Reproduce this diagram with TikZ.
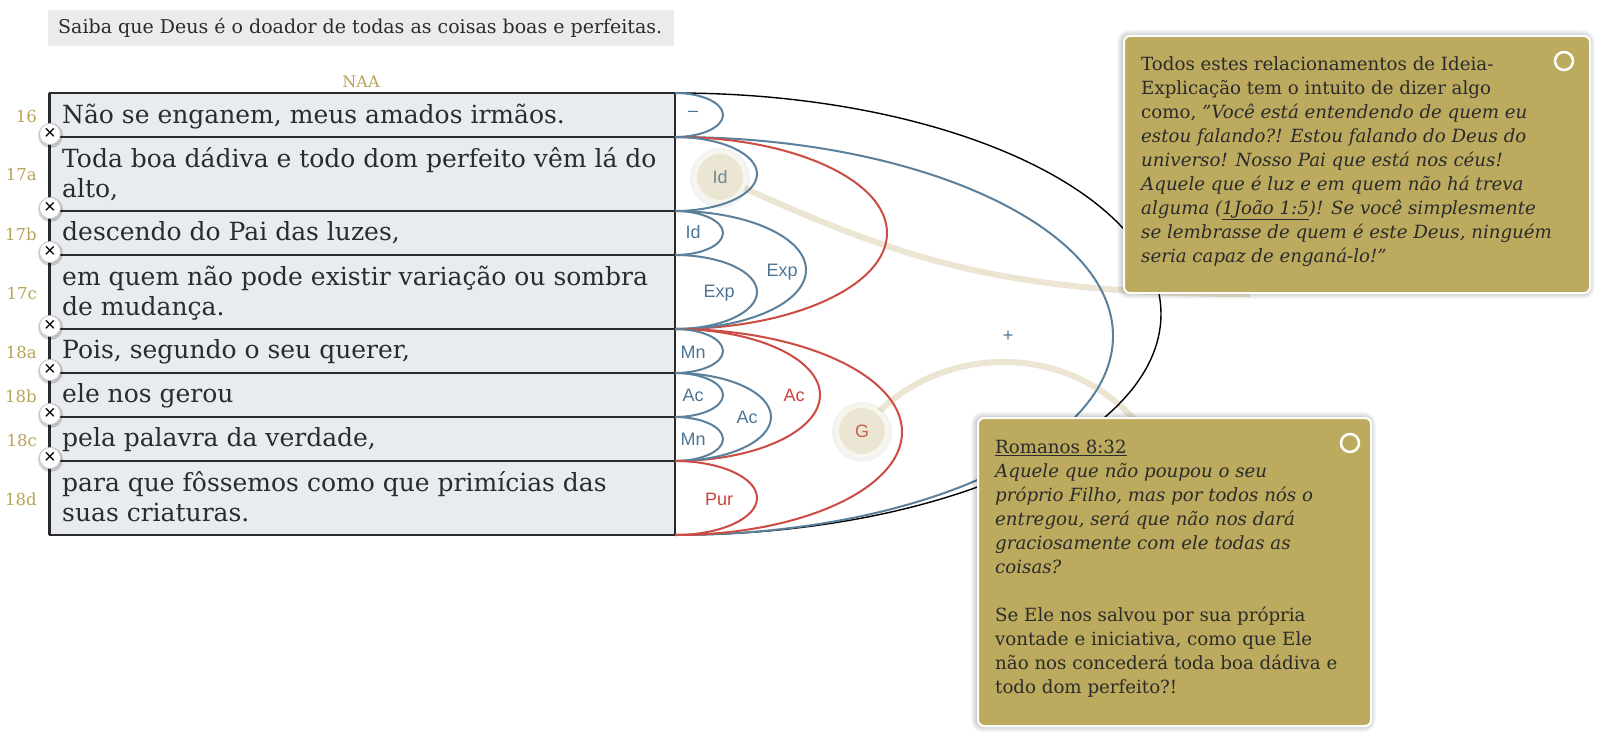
\documentclass[tikz,border=0pt]{standalone}
\usepackage{fontspec}
\setmainfont{DejaVu Serif}
\newfontfamily\labelfont{Liberation Sans}
\definecolor{arcblue}{HTML}{5B809B}
\definecolor{arcred}{HTML}{CC4B43}
\definecolor{lblblue}{HTML}{4E7595}
\definecolor{lblred}{HTML}{C9433C}
\definecolor{gold}{HTML}{B8A455}
\definecolor{notefill}{HTML}{BCAA5E}
\definecolor{rowfill}{HTML}{E8ECF0}
\definecolor{hdrfill}{HTML}{EBEBEB}
\definecolor{beige}{HTML}{EBE5D2}
\definecolor{bubfill}{HTML}{EBE6D3}
\definecolor{bubring}{HTML}{F7F5EC}
\definecolor{inktext}{HTML}{2B2B2B}
\definecolor{gridline}{HTML}{2A2A2A}
\definecolor{idtext}{HTML}{6D8A93}
\definecolor{gtext}{HTML}{C8604A}
\begin{document}
\begin{tikzpicture}[x=1pt,y=-1pt,
  rowbox/.style={draw=gridline, line width=2pt, fill=rowfill, anchor=north west, minimum width=625.5pt, inner sep=0pt, outer sep=0pt},
  rowtext/.style={anchor=north west, inner sep=0pt, align=left, text=inktext, font=\fontsize{25}{30}\selectfont},
  rownum/.style={anchor=base east, inner sep=0pt, text=gold, font=\fontsize{16.5}{19}\selectfont},
  xshadow/.style={circle, fill=black, opacity=0.18, minimum size=25pt, inner sep=0pt},
  xmark/.style={circle, fill=white, draw=black!22, line width=0.7pt, minimum size=21pt, inner sep=0pt, font=\labelfont\fontsize{20}{20}\selectfont, text=black},
  bluearc/.style={draw=arcblue, line width=2pt},
  redarc/.style={draw=arcred, line width=2pt},
  blackarc/.style={draw=black, line width=1.4pt},
  arclabel/.style={inner sep=0pt, font=\labelfont\fontsize{18}{18}\selectfont},
  bubshadow/.style={circle, fill=black, opacity=0.05, minimum size=60pt, inner sep=0pt},
  bubble/.style={circle, fill=bubfill, draw=bubring, line width=4pt, minimum size=50pt, inner sep=0pt, font=\labelfont\fontsize{18}{18}\selectfont},
  beigeline/.style={draw=beige, line width=6pt},
  notebox/.style={fill=notefill, draw=white, line width=2pt, rounded corners=6pt, anchor=north west, inner sep=0pt},
  notetext/.style={anchor=north west, inner sep=0pt, align=left, text=inktext, font=\fontsize{18.2}{24}\selectfont},
  notering/.style={circle, draw=white, line width=2.5pt, minimum size=18pt, inner sep=0pt},
]
\useasboundingbox[fill=white] (0,0) rectangle (1608,738);

% header
\node[fill=hdrfill, anchor=north west, minimum width=626pt, minimum height=36pt, inner sep=0pt] (hdr) at (48,10) {};
\node[anchor=base west, inner sep=0pt, text=inktext, font=\fontsize{19}{22}\selectfont] (hdrtext) at (58,34) {Saiba que Deus é o doador de todas as coisas boas e perfeitas.};
\node[text=gold, font=\fontsize{16}{18}\selectfont, inner sep=0pt] (naa) at (361,82) {NAA};

% rows
\node[rowbox, minimum height=44pt] (r16) at (49.5,93) {};
\node[rowbox, minimum height=74pt] (r17a) at (49.5,137) {};
\node[rowbox, minimum height=44pt] (r17b) at (49.5,211) {};
\node[rowbox, minimum height=74pt] (r17c) at (49.5,255) {};
\node[rowbox, minimum height=44pt] (r18a) at (49.5,329) {};
\node[rowbox, minimum height=44pt] (r18b) at (49.5,373) {};
\node[rowbox, minimum height=44pt] (r18c) at (49.5,417) {};
\node[rowbox, minimum height=74pt] (r18d) at (49.5,461) {};
\draw[gridline, line width=3.5pt] (r16.north west) -- (r18d.south west);

\node[rowtext] (t16) at (62,123-21) {\strut Não se enganem, meus amados irmãos.};
\node[rowtext] (t17a) at (62,167-21) {\strut Toda boa dádiva e todo dom perfeito vêm lá do\\alto,};
\node[rowtext] (t17b) at (62,240-21) {\strut descendo do Pai das luzes,};
\node[rowtext] (t17c) at (62,285-21) {\strut em quem não pode existir variação ou sombra\\de mudança.};
\node[rowtext] (t18a) at (62,358-21) {\strut Pois, segundo o seu querer,};
\node[rowtext] (t18b) at (62,402-21) {\strut ele nos gerou};
\node[rowtext] (t18c) at (62,446-21) {\strut pela palavra da verdade,};
\node[rowtext] (t18d) at (62,491-21) {\strut para que fôssemos como que primícias das\\suas criaturas.};

\node[rownum] (n16) at (37,123) {16};
\node[rownum] (n17a) at (37,181) {17a};
\node[rownum] (n17b) at (37,240) {17b};
\node[rownum] (n17c) at (37,299) {17c};
\node[rownum] (n18a) at (37,358) {18a};
\node[rownum] (n18b) at (37,402) {18b};
\node[rownum] (n18c) at (37,446) {18c};
\node[rownum] (n18d) at (37,505) {18d};

% boundary points
\coordinate (b0) at (r16.north east);
\coordinate (b1) at (r16.south east);
\coordinate (b2) at (r17a.south east);
\coordinate (b3) at (r17b.south east);
\coordinate (b4) at (r17c.south east);
\coordinate (b5) at (r18a.south east);
\coordinate (b6) at (r18b.south east);
\coordinate (b7) at (r18c.south east);
\coordinate (b8) at (r18d.south east);

% beige connectors
\coordinate (cId) at (720,177);
\coordinate (cG) at (862,431);
\coordinate (endA) at (1250,294);
\coordinate (endB) at (1150,440);
\draw[beigeline] (cId) .. controls (900,260) and (1000,294) .. (endA);
\draw[beigeline] (cG) .. controls (930,340) and (1080,335) .. (endB);

% bubbles
\node[bubshadow] (shId) at ([yshift=-1pt]cId) {};
\node[bubshadow] (shG) at ([yshift=-1pt]cG) {};
\node[bubble, text=idtext] (bubId) at (cId) {Id};
\node[bubble, text=gtext] (bubG) at (cG) {G};

% arcs
\draw[blackarc] (b0) arc[start angle=90, end angle=-90, x radius=486pt, y radius=221pt];
\draw[bluearc] (b1) arc[start angle=90, end angle=-90, x radius=438pt, y radius=199pt];
\draw[bluearc] (b0) arc[start angle=90, end angle=-90, x radius=48pt, y radius=22pt];
\draw[redarc] (b1) arc[start angle=90, end angle=-90, x radius=212pt, y radius=96pt];
\draw[bluearc] (b1) arc[start angle=90, end angle=-90, x radius=82pt, y radius=37pt];
\draw[bluearc] (b2) arc[start angle=90, end angle=-90, x radius=131pt, y radius=59pt];
\draw[bluearc] (b2) arc[start angle=90, end angle=-90, x radius=48pt, y radius=22pt];
\draw[bluearc] (b3) arc[start angle=90, end angle=-90, x radius=82pt, y radius=37pt];
\draw[redarc] (b4) arc[start angle=90, end angle=-90, x radius=227pt, y radius=103pt];
\draw[redarc] (b4) arc[start angle=90, end angle=-90, x radius=145pt, y radius=66pt];
\draw[bluearc] (b4) arc[start angle=90, end angle=-90, x radius=48pt, y radius=22pt];
\draw[bluearc] (b5) arc[start angle=90, end angle=-90, x radius=96pt, y radius=44pt];
\draw[bluearc] (b5) arc[start angle=90, end angle=-90, x radius=48pt, y radius=22pt];
\draw[bluearc] (b6) arc[start angle=90, end angle=-90, x radius=48pt, y radius=22pt];
\draw[redarc] (b7) arc[start angle=90, end angle=-90, x radius=82pt, y radius=37pt];

% labels
\node[arclabel, text=lblblue] (lminus) at (693,114) {–};
\node[arclabel, text=lblblue] (lid2) at (693,232) {Id};
\node[arclabel, text=lblblue] (lexp1) at (719,293) {Exp};
\node[arclabel, text=lblblue] (lexp2) at (782,272) {Exp};
\node[arclabel, text=lblblue] (lmn1) at (693,352) {Mn};
\node[arclabel, text=lblblue] (lac1) at (693,395) {Ac};
\node[arclabel, text=lblblue] (lac2) at (747,417) {Ac};
\node[arclabel, text=lblred] (lac3) at (794,395) {Ac};
\node[arclabel, text=lblblue] (lmn2) at (693,439) {Mn};
\node[arclabel, text=lblred] (lpur) at (719,499) {Pur};
\node[arclabel, text=lblblue] (lplus) at (1008,336) {+};

% x markers
\foreach \yy [count=\i] in {134,208,252,326,370,414,458}{
  \node[xshadow] (xs\i) at (50.5,\yy+1.5) {};
  \node[xmark] (x\i) at (50,\yy) {×};
}

% note shadows
\foreach \k in {1,...,6}{
  \fill[black, opacity=0.03, rounded corners=6pt+\k pt] (1123-\k,35-\k+1) rectangle (1589+\k,292+\k+1);
  \fill[black, opacity=0.03, rounded corners=6pt+\k pt] (977-\k,417-\k+1) rectangle (1370+\k,725+\k+1);
}

% notes
\node[notebox, minimum width=466pt, minimum height=257pt] (noteA) at (1123,35) {};
\node[notebox, minimum width=393pt, minimum height=308pt] (noteB) at (977,417) {};
\node[notering] (ringA) at (1564,61) {};
\node[notering] (ringB) at (1350,443) {};

\node[notetext] (noteAtext) at (1141,70-16.8) {\strut Todos estes relacionamentos de Ideia-\\
Explicação tem o intuito de dizer algo\\
como, \textit{"Você está entendendo de quem eu}\\
\textit{estou falando?! Estou falando do Deus do}\\
\textit{universo! Nosso Pai que está nos céus!}\\
\textit{Aquele que é luz e em quem não há treva}\\
\textit{alguma (\underline{1João 1:5})! Se você simplesmente}\\
\textit{se lembrasse de quem é este Deus, ninguém}\\
\textit{seria capaz de enganá-lo!"}};

\node[notetext] (noteBtext) at (995,453-16.8) {\strut \underline{Romanos 8:32}\\
\textit{Aquele que não poupou o seu}\\
\textit{próprio Filho, mas por todos nós o}\\
\textit{entregou, será que não nos dará}\\
\textit{graciosamente com ele todas as}\\
\textit{coisas?}\\
\strut\\
Se Ele nos salvou por sua própria\\
vontade e iniciativa, como que Ele\\
não nos concederá toda boa dádiva e\\
todo dom perfeito?!};
\end{tikzpicture}
\end{document}
